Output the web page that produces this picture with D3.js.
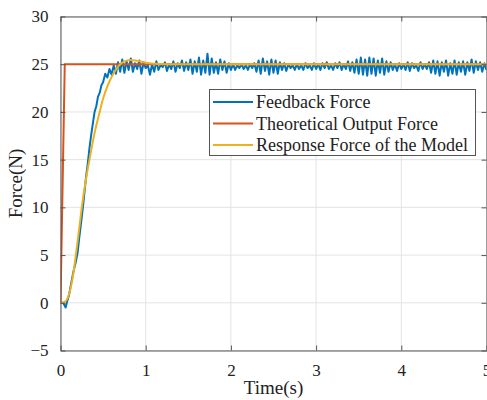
<!DOCTYPE html>
<html><head><meta charset="utf-8">
<script src="https://cdn.jsdelivr.net/npm/d3@7"></script>
<style>body{margin:0;background:#fff;} svg{display:block;}</style>
</head><body>
<script>
// ---- data ----
const xTicks = [0, 1, 2, 3, 4, 5];
const yTicks = [-5, 0, 5, 10, 15, 20, 25, 30];
const seriesNames = ["Feedback Force", "Theoretical Output Force", "Response Force of the Model"];
const seriesColors = ["#0072BD", "#D95319", "#EDB120"];

// Feedback force: rise phase (time, value)
const feedbackRiseT = [0, 0.03, 0.05, 0.06, 0.08, 0.10, 0.12, 0.15, 0.18, 0.20, 0.22, 0.25, 0.27, 0.30, 0.32, 0.34, 0.36, 0.38, 0.40, 0.42, 0.44, 0.46, 0.48, 0.50];
const feedbackRiseV = [0, 0, -0.3, -0.5, 0.2, 0.8, 1.8, 3.2, 4.3, 5.2, 6.8, 9.0, 10.6, 13.2, 14.6, 16.2, 17.6, 18.8, 20.0, 20.6, 21.6, 22.0, 22.8, 23.1];
// Feedback force: oscillating phase, sampled from t = 0.525 s every 0.025 s
const feedbackOscStart = 0.525, feedbackOscStep = 0.025;
const feedbackOscV = [
 24.0,23.6,24.5,23.9,24.9,24.0,25.2,24.2,25.5,24.1,
 25.3,24.4,25.6,24.2,25.1,24.5,25.4,24.0,25.2,24.6,
 24.9,23.9,25.0,24.2,25.3,24.4,24.9,24.7,25.2,24.3,
 25.0,24.5,25.3,24.2,25.1,24.6,25.4,24.3,25.2,24.4,
 25.5,24.0,25.3,24.2,25.7,23.9,25.4,24.1,26.1,23.9,
 25.6,24.1,25.2,24.0,25.5,24.4,25.3,24.1,25.1,24.4,
 25.0,24.4,24.9,24.6,25.0,24.5,24.9,24.4,25.0,24.6,
 25.1,24.2,25.4,24.0,25.6,24.3,25.3,23.9,25.5,24.1,
 25.4,24.0,25.2,24.4,25.1,24.3,25.0,24.6,24.9,24.4,
 25.0,24.5,24.9,24.4,25.1,24.6,24.9,24.4,25.1,24.5,
 25.0,24.4,25.1,24.6,25.2,24.5,24.9,24.4,25.1,24.6,
 25.2,24.4,25.0,24.5,25.3,24.3,25.2,24.1,25.5,24.0,
 25.7,23.9,25.5,23.8,25.7,24.0,25.6,23.8,25.4,24.1,
 25.6,23.9,25.3,24.2,25.2,24.4,25.0,24.3,25.1,24.5,
 25.0,24.4,25.2,24.3,25.1,24.6,24.9,24.3,25.2,24.5,
 25.0,24.5,25.2,24.1,25.4,24.0,25.3,23.8,25.2,24.2,
 25.4,23.8,25.1,24.0,25.4,23.9,25.2,24.2,25.3,23.9,
 25.2,24.3,25.5,24.1,25.3,24.4,25.2,24.2,25.1,24.4
];
// Theoretical output force
const theoryT = [0, 0.05, 5];
const theoryV = [0, 25, 25];
// Response force of the model
const modelT = [0, 0.05, 0.10, 0.15, 0.18, 0.22, 0.25, 0.30, 0.34, 0.40, 0.46, 0.50, 0.56, 0.62, 0.69, 0.75, 0.82, 0.90, 1.00, 1.10, 1.25, 5.0];
const modelV = [0, 0.1, 0.9, 3.0, 5.0, 7.8, 10.0, 13.0, 15.0, 17.8, 20.0, 21.4, 22.9, 24.0, 24.9, 25.3, 25.45, 25.35, 25.15, 25.05, 25.0, 25.0];

// ---- build ----
const W = 487, H = 400;
const m = {l: 60.5, r: 486.5, t: 16.5, b: 350.5};
const svg = d3.select("body").append("svg").attr("width", W).attr("height", H);
const x = d3.scaleLinear().domain([0, 5]).range([m.l, m.r]);
const y = d3.scaleLinear().domain([-5, 30]).range([m.b, m.t]);
const font = "Liberation Serif, Times New Roman, serif";

// grid
const g = svg.append("g");
g.selectAll(".gx").data(xTicks).enter().append("line")
  .attr("x1", d => x(d)).attr("x2", d => x(d)).attr("y1", m.t).attr("y2", m.b)
  .attr("stroke", "#e3e3e3").attr("stroke-width", 1);
g.selectAll(".gy").data(yTicks).enter().append("line")
  .attr("x1", m.l).attr("x2", m.r).attr("y1", d => y(d)).attr("y2", d => y(d))
  .attr("stroke", "#e3e3e3").attr("stroke-width", 1);

// data
svg.append("clipPath").attr("id", "clip").append("rect")
  .attr("x", m.l).attr("y", m.t).attr("width", m.r - m.l).attr("height", m.b - m.t);
const feedback = feedbackRiseT.map((t, i) => [t, feedbackRiseV[i]])
  .concat(feedbackOscV.map((v, i) => [feedbackOscStart + i * feedbackOscStep, v]));
const theory = theoryT.map((t, i) => [t, theoryV[i]]);
const model = modelT.map((t, i) => [t, modelV[i]]);
const line = d3.line().x(d => x(d[0])).y(d => y(d[1]));
const lineSmooth = d3.line().x(d => x(d[0])).y(d => y(d[1])).curve(d3.curveMonotoneX);
const dg = svg.append("g").attr("clip-path", "url(#clip)");
dg.append("path").attr("d", line(feedback)).attr("fill", "none").attr("stroke", seriesColors[0]).attr("stroke-width", 2).attr("stroke-linejoin", "round");
dg.append("path").attr("d", line(theory)).attr("fill", "none").attr("stroke", seriesColors[1]).attr("stroke-width", 2);
dg.append("path").attr("d", lineSmooth(model)).attr("fill", "none").attr("stroke", seriesColors[2]).attr("stroke-width", 2);

// axes
const axCol = "#555";
const ab = svg.append("g").attr("transform", `translate(0,${m.b})`)
  .call(d3.axisBottom(x).tickValues(xTicks).tickSizeInner(-5).tickSizeOuter(0).tickPadding(13).tickFormat(d3.format("d")));
const at = svg.append("g").attr("transform", `translate(0,${m.t})`)
  .call(d3.axisTop(x).tickValues(xTicks).tickSizeInner(-5).tickSizeOuter(0).tickFormat(""));
const al = svg.append("g").attr("transform", `translate(${m.l},0)`)
  .call(d3.axisLeft(y).tickValues(yTicks).tickSizeInner(-5).tickSizeOuter(0).tickPadding(12).tickFormat(d => d < 0 ? "\u2212" + Math.abs(d) : d));
const ar = svg.append("g").attr("transform", `translate(${m.r},0)`)
  .call(d3.axisRight(y).tickValues(yTicks).tickSizeInner(-5).tickSizeOuter(0).tickFormat(""));
[ab, at, al, ar].forEach(a => {
  a.attr("font-family", font).attr("font-size", 17);
  a.selectAll("path").attr("stroke", axCol).attr("stroke-width", 1);
  a.selectAll("line").attr("stroke", axCol);
  a.selectAll("text").attr("fill", "#222").attr("font-family", font).attr("font-size", 17);
});

// axis labels
svg.append("text").attr("x", (m.l + m.r) / 2).attr("y", 394).attr("text-anchor", "middle")
  .attr("font-family", font).attr("font-size", 19).attr("fill", "#222").text("Time(s)");
svg.append("text").attr("transform", `translate(22,${(m.t + m.b) / 2}) rotate(-90)`).attr("text-anchor", "middle")
  .attr("font-family", font).attr("font-size", 19).attr("fill", "#222").text("Force(N)");

// legend
const lg = svg.append("g");
lg.append("rect").attr("x", 209.5).attr("y", 89.5).attr("width", 266).attr("height", 66)
  .attr("fill", "#fff").attr("stroke", axCol).attr("stroke-width", 1);
seriesNames.forEach((n, i) => {
  const yy = 102 + i * 21.5;
  lg.append("line").attr("x1", 213).attr("x2", 253).attr("y1", yy).attr("y2", yy)
    .attr("stroke", seriesColors[i]).attr("stroke-width", 2);
  lg.append("text").attr("x", 256).attr("y", yy + 6).attr("font-family", font).attr("font-size", 18)
    .attr("fill", "#222").text(n);
});
</script>
</body></html>
